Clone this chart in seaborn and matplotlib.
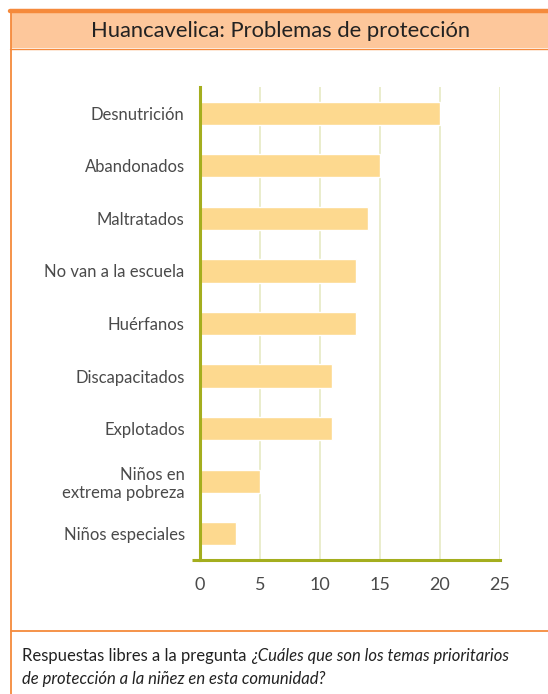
import matplotlib
matplotlib.use("Agg")
import matplotlib.pyplot as plt
import seaborn as sns
import pandas as pd
from matplotlib.lines import Line2D
from matplotlib.patches import Rectangle

# data
categories = ["Desnutrición", "Abandonados", "Maltratados", "No van a la escuela",
              "Huérfanos", "Discapacitados", "Explotados",
              "Niños en\nextrema pobreza", "Niños especiales"]
values = [20, 15, 14, 13, 13, 11, 11, 5, 3]
x_ticks = [0, 5, 10, 15, 20, 25]

df = pd.DataFrame({"problema": categories, "n": values})

sns.set_style("white")
plt.rcParams["font.family"] = ["Lato", "DejaVu Sans"]

orange = "#F58A3C"
peach = "#FDC79B"
olive = "#A4AE1E"
grid_c = "#E6EAC4"
bar_c = "#FDD98F"
txt = "#4A4A4A"

W, H = 548, 694
fig = plt.figure(figsize=(W / 100, H / 100), dpi=100)

def fx(px):
    return px / W

def fy(py):
    return 1 - py / H

# frame and title band
fig.patches.append(Rectangle((fx(11), fy(48)), 1 - fx(11), fy(13) - fy(48),
                             transform=fig.transFigure, facecolor=peach,
                             edgecolor="none", zorder=0))
fig.lines.append(Line2D([fx(10), 1], [fy(11), fy(11)], transform=fig.transFigure,
                        color=orange, lw=3.2))
fig.lines.append(Line2D([fx(10), 1], [fy(48.5), fy(48.5)], transform=fig.transFigure,
                        color=orange, lw=1.0))
fig.lines.append(Line2D([fx(11), fx(11)], [fy(9.5), 0], transform=fig.transFigure,
                        color=orange, lw=1.3))
fig.lines.append(Line2D([fx(11), 1], [fy(631), fy(631)], transform=fig.transFigure,
                        color=orange, lw=1.3))

fig.text(fx(281), fy(31), "Huancavelica: Problemas de protección", ha="center",
         va="center", fontsize=15.8, color="#222222")

ax = fig.add_axes([fx(200), fy(560), fx(500) - fx(200), fy(87) - fy(560)])
sns.barplot(data=df, x="n", y="problema", orient="h", color=bar_c,
            saturation=1, width=0.44, ax=ax)

ax.set_xlim(0, 25)
ax.set_ylim(8.5, -0.5)
ax.set_xticks(x_ticks)
ax.set_xlabel("")
ax.set_ylabel("")
ax.xaxis.grid(True, color=grid_c, lw=1.2)
ax.set_axisbelow(True)
for s in ["top", "right"]:
    ax.spines[s].set_visible(False)
for s in ["left", "bottom"]:
    ax.spines[s].set_color(olive)
    ax.spines[s].set_linewidth(2.2)
# bottom axis line runs a little past the y axis, as in the reference
ax.plot([-8 / 300, 0], [0, 0], transform=ax.transAxes, color=olive, lw=2.2,
        clip_on=False, solid_capstyle="butt")
ax.tick_params(axis="y", which="major", length=0, pad=11, labelsize=12, labelcolor=txt)
ax.set_yticks([i - 0.5 for i in range(10)], minor=True)
ax.tick_params(axis="y", which="minor", length=8, width=1.4, color=olive)
ax.tick_params(axis="x", length=0, pad=12, labelsize=13, labelcolor=txt)
for lab in ax.get_yticklabels():
    lab.set_multialignment("right")

t1 = fig.text(fx(22), fy(656), "Respuestas libres a la pregunta ", fontsize=12,
              color="#222222", va="center")
ax.annotate("¿Cuáles que son los temas prioritarios", xy=(1, 0.5), xycoords=t1,
            va="center", fontsize=12, style="italic", color="#222222",
            annotation_clip=False)
fig.text(fx(22), fy(679), "de protección a la niñez en esta comunidad?", fontsize=12,
         style="italic", color="#222222", va="center")

fig.savefig("out.png", dpi=100)
